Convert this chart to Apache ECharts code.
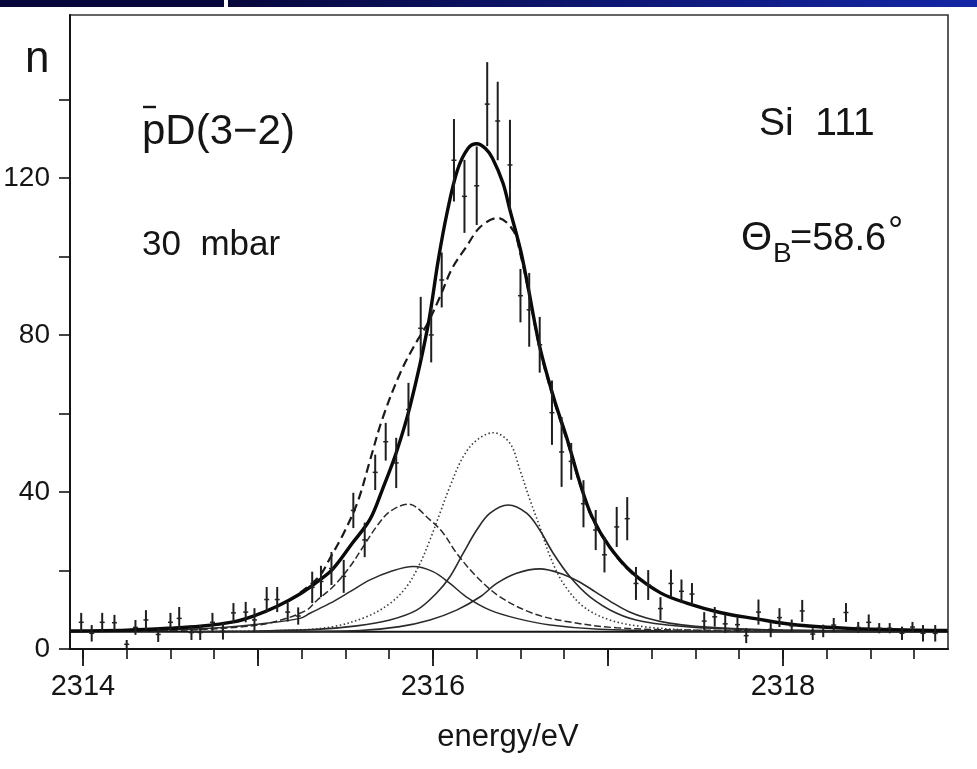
<!DOCTYPE html>
<html>
<head>
<meta charset="utf-8">
<script src="https://cdn.jsdelivr.net/npm/echarts@6/dist/echarts.min.js"></script>
<style>
html,body{margin:0;padding:0;background:#fff;}
#c{width:977px;height:769px;}
</style>
</head>
<body>
<div id="c"></div>
<script>
// ---- measured data points (energy / eV, counts n, error) ----
const dataE = [2313.99,2314.05,2314.11,2314.18,2314.25,2314.30,2314.36,2314.43,2314.50,2314.55,2314.62,2314.67,2314.74,2314.80,2314.86,2314.93,2314.98,2315.05,2315.11,2315.17,2315.23,2315.31,2315.36,2315.42,2315.49,2315.545,2315.61,2315.67,2315.73,2315.79,2315.86,2315.93,2315.99,2316.05,2316.12,2316.18,2316.25,2316.31,2316.37,2316.44,2316.50,2316.55,2316.61,2316.68,2316.735,2316.79,2316.86,2316.93,2316.98,2317.05,2317.11,2317.16,2317.23,2317.30,2317.36,2317.42,2317.48,2317.55,2317.61,2317.67,2317.74,2317.79,2317.86,2317.93,2317.98,2318.05,2318.11,2318.17,2318.23,2318.29,2318.36,2318.43,2318.49,2318.55,2318.61,2318.68,2318.74,2318.80,2318.87];
const dataN = [6.8,4.0,6.8,6.7,1.2,5.5,7.4,3.7,6.8,7.8,4.2,4.2,6.8,4.5,9.2,9.4,7.4,12.6,12.6,9.4,8.4,15.7,17.2,20.5,18.5,35.3,27.8,45,52.8,47.4,61,81.7,80,94,124.5,115.3,118,138.8,134.5,123.3,90,86.4,77.5,60.2,50.2,47.8,37,30.3,24,31.1,33.2,16.7,16.3,10.3,16.7,14.7,14.0,7.1,8.2,6.4,6.2,3.4,9.4,5.0,8.0,5.9,9.7,3.8,4.6,6.1,9.3,5.5,6.8,5.3,5.3,4.0,5.6,4.0,4.0];
const dataErr = [2.4,2.1,2.4,2.0,1.1,1.9,2.5,1.9,2.4,2.9,1.9,1.9,2.4,2.1,2.5,2.6,3.0,3.2,3.2,2.4,2.2,4.0,4.0,4.2,4.2,4.5,4.4,4.5,4.8,6.4,6.8,8,7,7,10.5,9.3,10,10.7,10,11.5,6.8,9.4,7.1,8.2,8.9,4.7,6,5.1,4.5,5.1,5.5,4.2,3.8,2.9,3.5,3.0,2.8,2.3,2.5,2.3,1.9,1.9,3.2,2.0,2.4,1.6,2.8,1.5,1.6,1.8,2.4,1.4,2.0,1.3,1.3,1.7,1.3,2.1,2.1];

// ---- fitted curves: [energy, n] ----
const fitTotal = [[2313.93,4.6],[2314.25,4.8],[2314.5,5.3],[2314.67,5.8],[2314.86,6.9],[2314.97,8.3],[2315.11,10.9],[2315.24,14.0],[2315.35,17.5],[2315.43,20.5],[2315.54,27],[2315.64,33],[2315.71,40.5],[2315.79,50],[2315.87,62],[2315.97,82],[2316.03,99],[2316.08,111],[2316.14,122],[2316.20,127.5],[2316.25,128.7],[2316.30,127.5],[2316.34,125],[2316.40,118.7],[2316.44,111.8],[2316.50,101.7],[2316.54,93],[2316.61,77],[2316.69,64],[2316.77,53],[2316.84,42.3],[2316.91,33.6],[2317.01,26],[2317.14,19.4],[2317.30,14.3],[2317.45,11.7],[2317.64,9.3],[2317.83,7.8],[2318.08,6.1],[2318.4,5.2],[2318.94,4.7]];
const fitSum = [[2315.24,14.3],[2315.35,18.5],[2315.41,23],[2315.49,29.5],[2315.57,37.5],[2315.64,48],[2315.71,58.5],[2315.81,70],[2315.89,77],[2315.97,83],[2316.04,89.7],[2316.11,97],[2316.19,102.4],[2316.27,107.5],[2316.37,109.8],[2316.46,106.5],[2316.50,100.5],[2316.54,92.5],[2316.61,76.5],[2316.69,63.5],[2316.77,52.5],[2316.84,42],[2316.91,33.3],[2317.01,25.8],[2317.14,19.2],[2317.30,14.2]];
const compA = [[2313.93,4.5],[2314.5,4.7],[2314.9,5.6],[2315.1,7.0],[2315.278,9.9],[2315.335,12.3],[2315.43,15.9],[2315.526,21.0],[2315.602,26.1],[2315.678,31.2],[2315.754,35.0],[2315.859,36.9],[2315.983,32.9],[2316.059,29.5],[2316.135,24.4],[2316.25,18.4],[2316.383,13.3],[2316.57,9.1],[2316.764,7.0],[2317.05,5.4],[2317.5,4.8],[2318.94,4.5]];
const compB = [[2313.93,4.5],[2314.5,4.9],[2314.8,5.5],[2315.0,6.3],[2315.24,7.8],[2315.297,9.1],[2315.41,11.6],[2315.526,14.6],[2315.64,17.6],[2315.754,19.7],[2315.888,21.0],[2316.0,19.7],[2316.097,16.7],[2316.19,13.3],[2316.326,9.9],[2316.478,7.8],[2316.67,6.1],[2316.95,5.0],[2317.4,4.6],[2318.94,4.4]];
const compC = [[2314.6,4.4],[2315.2,4.8],[2315.43,5.7],[2315.62,8.2],[2315.754,11.6],[2315.85,15.9],[2315.926,21.8],[2315.983,27.8],[2316.04,34.6],[2316.097,41.4],[2316.173,49.0],[2316.25,53.2],[2316.345,55.1],[2316.44,52.4],[2316.497,45.6],[2316.554,38.0],[2316.61,31.2],[2316.67,23.5],[2316.745,16.7],[2316.86,10.8],[2317.01,7.4],[2317.2,5.7],[2317.5,4.8],[2318.0,4.5]];
const compD = [[2314.6,4.4],[2315.0,4.6],[2315.335,5.0],[2315.564,5.9],[2315.754,7.4],[2315.907,9.9],[2316.02,14.2],[2316.097,18.4],[2316.173,24.4],[2316.25,30.3],[2316.326,34.6],[2316.43,36.7],[2316.535,34.6],[2316.61,30.3],[2316.687,24.4],[2316.783,18.4],[2316.897,13.3],[2317.05,9.1],[2317.2,7.0],[2317.5,5.5],[2318.0,4.8],[2318.94,4.5]];
const compE = [[2314.9,4.4],[2315.3,4.5],[2315.583,4.7],[2315.81,5.7],[2315.983,7.4],[2316.135,9.9],[2316.27,13.3],[2316.364,16.7],[2316.478,19.3],[2316.611,20.4],[2316.745,19.0],[2316.84,17.0],[2316.93,14.5],[2317.03,11.7],[2317.12,9.5],[2317.22,7.9],[2317.35,6.6],[2317.5,5.8],[2317.8,5.0],[2318.2,4.6],[2318.94,4.4]];
const background = [[2313.926,4.4],[2318.943,4.4]];

// ---- axes ----
const xMin = 2313.926, xMax = 2318.943;
const yMin = 0, yMax = 161.5;
const xLabels = [2314, 2316, 2318];
const xMajorTicks = [2314, 2315, 2316, 2317, 2318];
const xMinorTicks = [2314,2314.25,2314.5,2314.75,2315,2315.25,2315.5,2315.75,2316,2316.25,2316.5,2316.75,2317,2317.25,2317.5,2317.75,2318,2318.25,2318.5,2318.75];
const yTicks = [0,20,40,60,80,100,120,140];
const yLabels = [0,40,80,120];

const FONT = "'Liberation Sans', Arial, sans-serif";
const INK = '#151515';

const chart = echarts.init(document.getElementById('c'), null, {renderer:'canvas'});

const errData = dataE.map((e, i) => [e, dataN[i], dataErr[i]]);

function lineSeries(data, style, z) {
  return {
    type: 'line', data: data, smooth: 0.35, showSymbol: false, symbol: 'none',
    lineStyle: style, z: z, animation: false, silent: true, clip: true
  };
}

const option = {
  animation: false,
  backgroundColor: '#ffffff',
  grid: {left: 70, right: 29, top: 15, bottom: 120, containLabel: false, outerBoundsMode: 'none',
    show: true, borderColor: '#333', borderWidth: 1.6, backgroundColor: 'transparent'},
  xAxis: [
    {
      type: 'value', min: xMin, max: xMax, position: 'bottom',
      axisLine: {show: true, onZero: false, lineStyle: {color: INK, width: 2}},
      axisTick: {show: true, inside: false, length: 10, customValues: xMinorTicks, lineStyle: {color: INK, width: 1.6}},
      axisLabel: {show: false},
      splitLine: {show: false}
    },
    {
      type: 'value', min: xMin, max: xMax, position: 'bottom',
      axisLine: {show: false},
      axisTick: {show: true, inside: false, length: 17, customValues: xMajorTicks, lineStyle: {color: INK, width: 1.8}},
      axisLabel: {show: true, customValues: xLabels, margin: 23, fontSize: 29, fontFamily: FONT, color: INK, formatter: v => String(Math.round(v))},
      splitLine: {show: false}
    }
  ],
  yAxis: {
    type: 'value', min: yMin, max: yMax,
    axisLine: {show: true, onZero: false, lineStyle: {color: INK, width: 2}},
    axisTick: {show: true, inside: false, length: 11, customValues: yTicks, lineStyle: {color: INK, width: 1.6}},
    axisLabel: {show: true, customValues: yLabels, margin: 20, fontSize: 28, fontFamily: FONT, color: INK},
    splitLine: {show: false}
  },
  series: [
    lineSeries(background, {color: INK, width: 2}, 2),
    lineSeries(compA, {color: '#2a2a2a', width: 1.5, type: [7, 3]}, 3),
    lineSeries(compB, {color: '#2a2a2a', width: 1.5, type: 'solid'}, 3),
    lineSeries(compC, {color: '#3a3a3a', width: 1.6, type: [1.5, 2.5]}, 3),
    lineSeries(compD, {color: '#2a2a2a', width: 1.6, type: 'solid'}, 3),
    lineSeries(compE, {color: '#2a2a2a', width: 1.6, type: 'solid'}, 3),
    lineSeries(fitSum, {color: '#1a1a1a', width: 2.2, type: [9, 5]}, 4),
    lineSeries(fitTotal, {color: '#0a0a0a', width: 3.4, type: 'solid'}, 5),
    {
      type: 'custom', data: errData, z: 6, animation: false, silent: true, clip: true,
      encode: {x: 0, y: 1},
      renderItem: function (params, api) {
        const x = api.value(0), y = api.value(1), e = api.value(2);
        const top = api.coord([x, y + e]);
        const bot = api.coord([x, y - e]);
        const mid = api.coord([x, y]);
        return {
          type: 'group',
          children: [
            {type: 'line', shape: {x1: top[0], y1: top[1], x2: bot[0], y2: bot[1]}, style: {stroke: '#1e1e1e', lineWidth: 2}},
            {type: 'line', shape: {x1: mid[0] - 2.5, y1: mid[1], x2: mid[0] + 2.5, y2: mid[1]}, style: {stroke: '#222', lineWidth: 1.5}}
          ]
        };
      }
    }
  ],
  graphic: [
    // slide header bar
    {type: 'rect', shape: {x: 0, y: 0, width: 224, height: 7}, style: {fill: '#07073c'}, silent: true},
    {type: 'rect', shape: {x: 228, y: 0, width: 749, height: 7}, silent: true,
      style: {fill: new echarts.graphic.LinearGradient(0, 0, 1, 0, [{offset: 0, color: '#07073c'}, {offset: 1, color: '#1426a6'}])}},
    // axis name "n"
    {type: 'text', x: 25, y: 60, style: {text: 'n', font: "44px 'Liberation Sans', Arial, sans-serif", fill: INK, verticalAlign: 'middle'}, silent: true},
    // annotations
    {type: 'text', x: 142, y: 132, style: {text: 'pD(3\u22122)', font: "42px 'Liberation Sans', Arial, sans-serif", fill: INK, verticalAlign: 'middle'}, silent: true},
    {type: 'line', shape: {x1: 143, y1: 107, x2: 156, y2: 107}, style: {stroke: INK, lineWidth: 2.4}, silent: true},
    {type: 'text', x: 142, y: 245, style: {text: '30  mbar', font: "35px 'Liberation Sans', Arial, sans-serif", fill: INK, verticalAlign: 'middle'}, silent: true},
    {type: 'text', x: 759, y: 124, style: {text: 'Si  111', font: "39px 'Liberation Sans', Arial, sans-serif", fill: INK, verticalAlign: 'middle'}, silent: true},
    {type: 'text', x: 741, y: 239, style: {text: '\u0398', font: "40px 'Liberation Sans', Arial, sans-serif", fill: INK, verticalAlign: 'middle'}, silent: true},
    {type: 'text', x: 773, y: 254, style: {text: 'B', font: "28px 'Liberation Sans', Arial, sans-serif", fill: INK, verticalAlign: 'middle'}, silent: true},
    {type: 'text', x: 790, y: 240, style: {text: '=58.6', font: "38px 'Liberation Sans', Arial, sans-serif", fill: INK, verticalAlign: 'middle'}, silent: true},
    {type: 'text', x: 888, y: 233, style: {text: '\u00B0', font: "38px 'Liberation Sans', Arial, sans-serif", fill: INK, verticalAlign: 'middle'}, silent: true},
    {type: 'text', x: 508, y: 737, style: {text: 'energy/eV', font: "31px 'Liberation Sans', Arial, sans-serif", fill: INK, align: 'center', verticalAlign: 'middle'}, silent: true}
  ]
};

chart.setOption(option);
</script>
</body>
</html>
